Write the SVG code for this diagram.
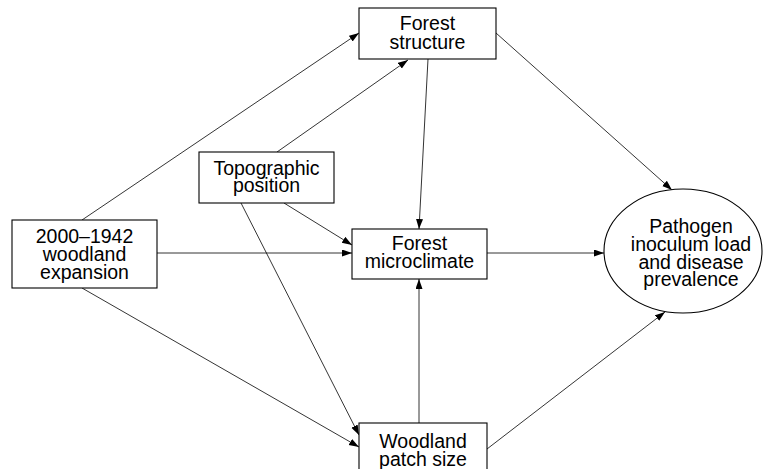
<svg xmlns="http://www.w3.org/2000/svg" width="765" height="469" viewBox="0 0 765 469">
<style>
.box{fill:#fff;stroke:#000;stroke-width:1.1}
.t{font-family:"Liberation Sans",Arial,sans-serif;font-size:19.5px;fill:#000;text-anchor:middle}
.c{stroke:#000;stroke-width:0.8;fill:none;marker-end:url(#ah)}
</style>
<defs>
<marker id="ah" markerUnits="userSpaceOnUse" markerWidth="11" markerHeight="8" refX="10" refY="3.5" orient="auto">
<path d="M0,0 L10,3.5 L0,7 z" fill="#000"/>
</marker>
</defs>
<rect width="765" height="469" fill="#fff"/>
<g id="connectors">
<line class="c" x1="82" y1="220" x2="359" y2="33"/>
<line class="c" x1="277" y1="152" x2="408" y2="60"/>
<line class="c" x1="428" y1="59" x2="419" y2="229"/>
<line class="c" x1="496" y1="33" x2="672" y2="190"/>
<line class="c" x1="284" y1="203" x2="352" y2="245"/>
<line class="c" x1="241" y1="203" x2="359" y2="435"/>
<line class="c" x1="157" y1="253" x2="352" y2="253"/>
<line class="c" x1="82" y1="288" x2="359" y2="447"/>
<line class="c" x1="419" y1="423" x2="419" y2="279"/>
<line class="c" x1="487" y1="253" x2="604" y2="253"/>
<line class="c" x1="487" y1="449" x2="665" y2="312"/>
</g>
<g id="forest-structure">
<rect class="box" x="359" y="8" width="137" height="51"/>
<text class="t" x="427.5" y="30">Forest</text>
<text class="t" x="427.5" y="48.5">structure</text>
</g>
<g id="topographic-position">
<rect class="box" x="199" y="152" width="135" height="51"/>
<text class="t" x="266.5" y="174.5">Topographic</text>
<text class="t" x="266.5" y="192">position</text>
</g>
<g id="woodland-expansion">
<rect class="box" x="12" y="220" width="145" height="68"/>
<text class="t" x="84.5" y="243">2000–1942</text>
<text class="t" x="84.5" y="261">woodland</text>
<text class="t" x="84.5" y="278.5">expansion</text>
</g>
<g id="forest-microclimate">
<rect class="box" x="352" y="229" width="135" height="50"/>
<text class="t" x="419.5" y="250">Forest</text>
<text class="t" x="419.5" y="267.5">microclimate</text>
</g>
<g id="woodland-patch-size">
<rect class="box" x="359" y="423" width="128" height="52"/>
<text class="t" x="423" y="448">Woodland</text>
<text class="t" x="423" y="465.5">patch size</text>
</g>
<g id="pathogen">
<ellipse class="box" cx="683" cy="251" rx="79" ry="62"/>
<text class="t" x="691" y="233">Pathogen</text>
<text class="t" x="691" y="251">inoculum load</text>
<text class="t" x="691" y="268.5">and disease</text>
<text class="t" x="691" y="286">prevalence</text>
</g>
</svg>
